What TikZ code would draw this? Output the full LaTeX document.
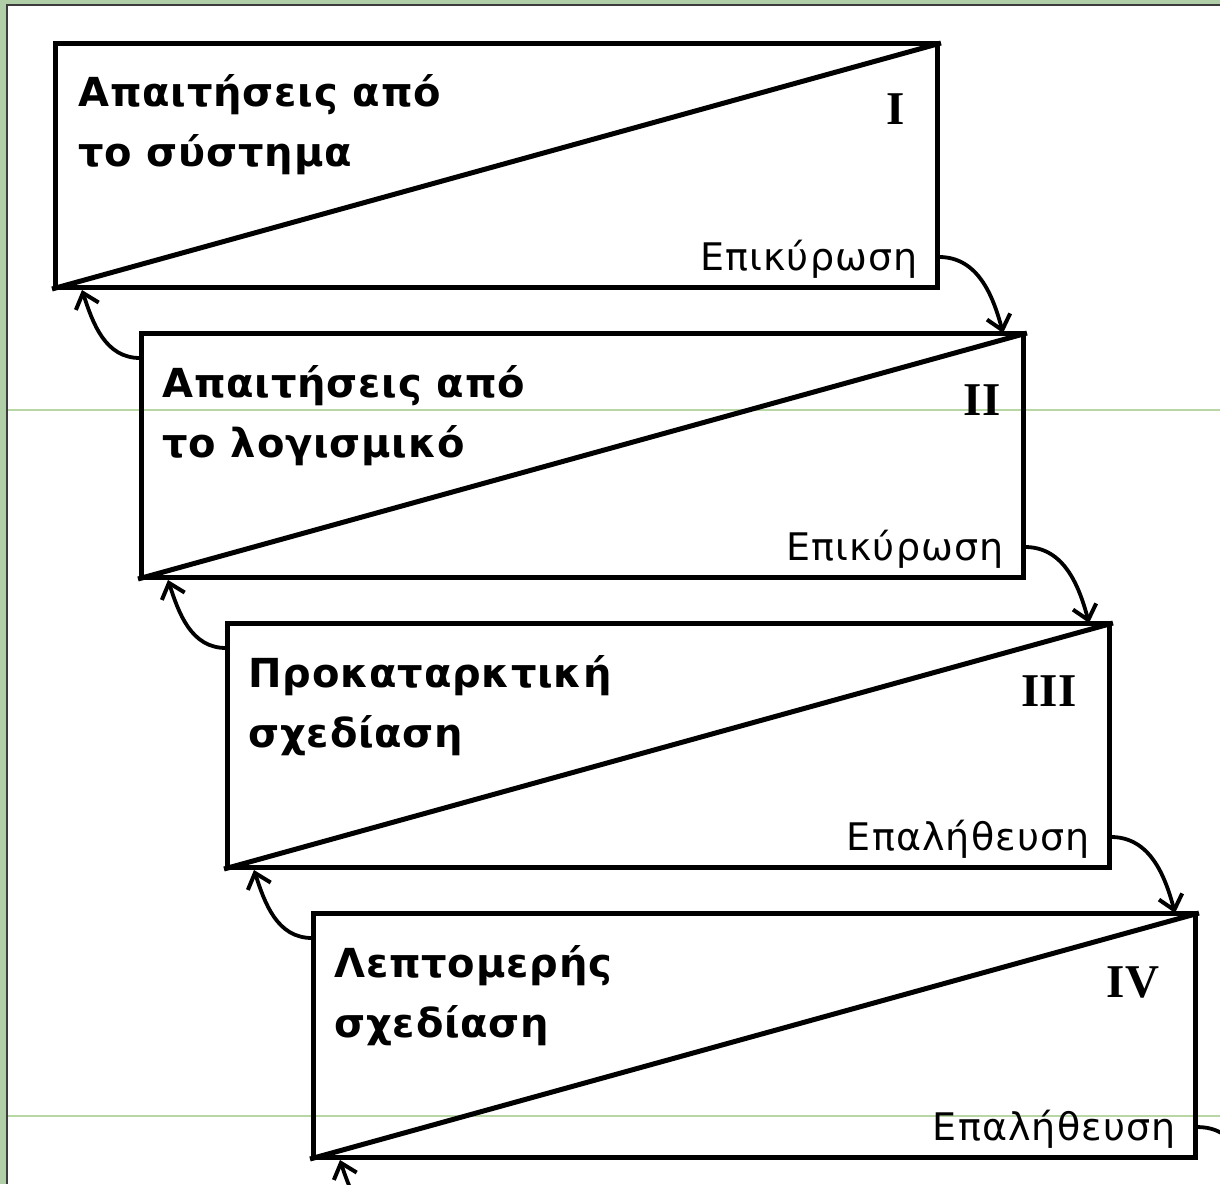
\documentclass[tikz,border=0pt]{standalone}
\usepackage{fontspec}
\setmainfont{DejaVu Sans}
\newfontfamily\numfont{Liberation Serif}
\newfontfamily\titlefont[LetterSpace=2]{DejaVu Sans}
\newfontfamily\checkfont[LetterSpace=3]{DejaVu Sans}
\usetikzlibrary{arrows.meta,calc}
\definecolor{framegreen}{RGB}{176,206,168}
\definecolor{framegray}{RGB}{60,60,60}
\definecolor{faintgreen}{RGB}{185,215,165}
\begin{document}
\begin{tikzpicture}[x=0.5pt,y=-0.5pt,
  stage/.style={draw=black,line width=2.5pt,minimum width=441pt,minimum height=122pt,inner sep=0pt,outer sep=0pt},
  diag/.style={line width=2.5pt},
  title/.style={font=\fontsize{20}{30}\selectfont\titlefont\bfseries,align=left,anchor=base west,inner sep=0pt},
  check/.style={font=\fontsize{19}{20}\selectfont\checkfont,anchor=base east,inner sep=0pt},
  roman/.style={font=\fontsize{23.5}{24}\selectfont\numfont\bfseries,anchor=base,inner sep=0pt},
  flow/.style={line width=1.9pt,-{Straight Barb[length=7pt,width=12pt,line width=2pt]}},
  faint/.style={draw=faintgreen,line width=0.6pt}]
\useasboundingbox (0,0) rectangle (1220,1184);
\clip (0,0) rectangle (1220,1184);
% background frame
\fill[framegreen] (0,0) rectangle (1220,1184);
\fill[white] (8,6) rectangle (1220,1184);
\draw[framegray,line width=1pt] (7,1184) -- (7,5) -- (1220,5);
\draw[faint] (8,410) -- (1220,410);
\draw[faint] (8,1116) -- (1220,1116);
% boxes
\node[stage] (b1) at (496,165) {};
\node[stage] (b2) at (582,455) {};
\node[stage] (b3) at (668,745) {};
\node[stage] (b4) at (754,1035) {};
\foreach \b in {b1,b2,b3,b4}{
  \draw[diag] ($(\b.south west)+(-3,2)$) -- ($(\b.north east)+(4,0)$);
}
% titles (base anchor = baseline of last line)
\path (b1.north west) ++(23,123) node[title] (t1) {Απαιτήσεις από\\το σύστημα};
\path (b2.north west) ++(21,124) node[title] (t2) {Απαιτήσεις από\\το λογισμικό};
\path (b3.north west) ++(21,124) node[title] (t3) {Προκαταρκτική\\σχεδίαση};
\path (b4.north west) ++(21,124) node[title] (t4) {Λεπτομερής\\σχεδίαση};
% roman numerals
\node[roman] (r1) at (896,124) {I};
\node[roman] (r2) at (982,415) {II};
\node[roman] (r3) at (1049,706) {III};
\node[roman] (r4) at (1133,997) {IV};
% check labels
\path (b1.south east) ++(-19,-17) node[check] (v1) {Επικύρωση};
\path (b2.south east) ++(-19,-17) node[check] (v2) {Επικύρωση};
\path (b3.south east) ++(-19,-17) node[check] (v3) {Επαλήθευση};
\path (b4.south east) ++(-19,-17) node[check] (v4) {Επαλήθευση};
% forward arrows
\draw[flow] ($(b1.south east)+(2,-30)$) to[out=0,in=105] ($(b2.north east)+(-20,0)$);
\draw[flow] ($(b2.south east)+(2,-30)$) to[out=0,in=105] ($(b3.north east)+(-20,0)$);
\draw[flow] ($(b3.south east)+(2,-30)$) to[out=0,in=105] ($(b4.north east)+(-20,0)$);
\coordinate (out4) at ($(b4.south east)+(70,100)$);
\draw[flow] ($(b4.south east)+(2,-30)$) to[out=0,in=105] (out4);
% backward arrows
\draw[flow] ($(b2.north west)+(-1,25)$) to[out=180,in=-72] ($(b1.south west)+(27,3)$);
\draw[flow] ($(b3.north west)+(-1,25)$) to[out=180,in=-72] ($(b2.south west)+(27,3)$);
\draw[flow] ($(b4.north west)+(-1,25)$) to[out=180,in=-72] ($(b3.south west)+(27,3)$);
\coordinate (in5) at ($(b4.south west)+(86,70)$);
\draw[flow] (in5) to[out=180,in=-72] ($(b4.south west)+(27,3)$);
\end{tikzpicture}
\end{document}
